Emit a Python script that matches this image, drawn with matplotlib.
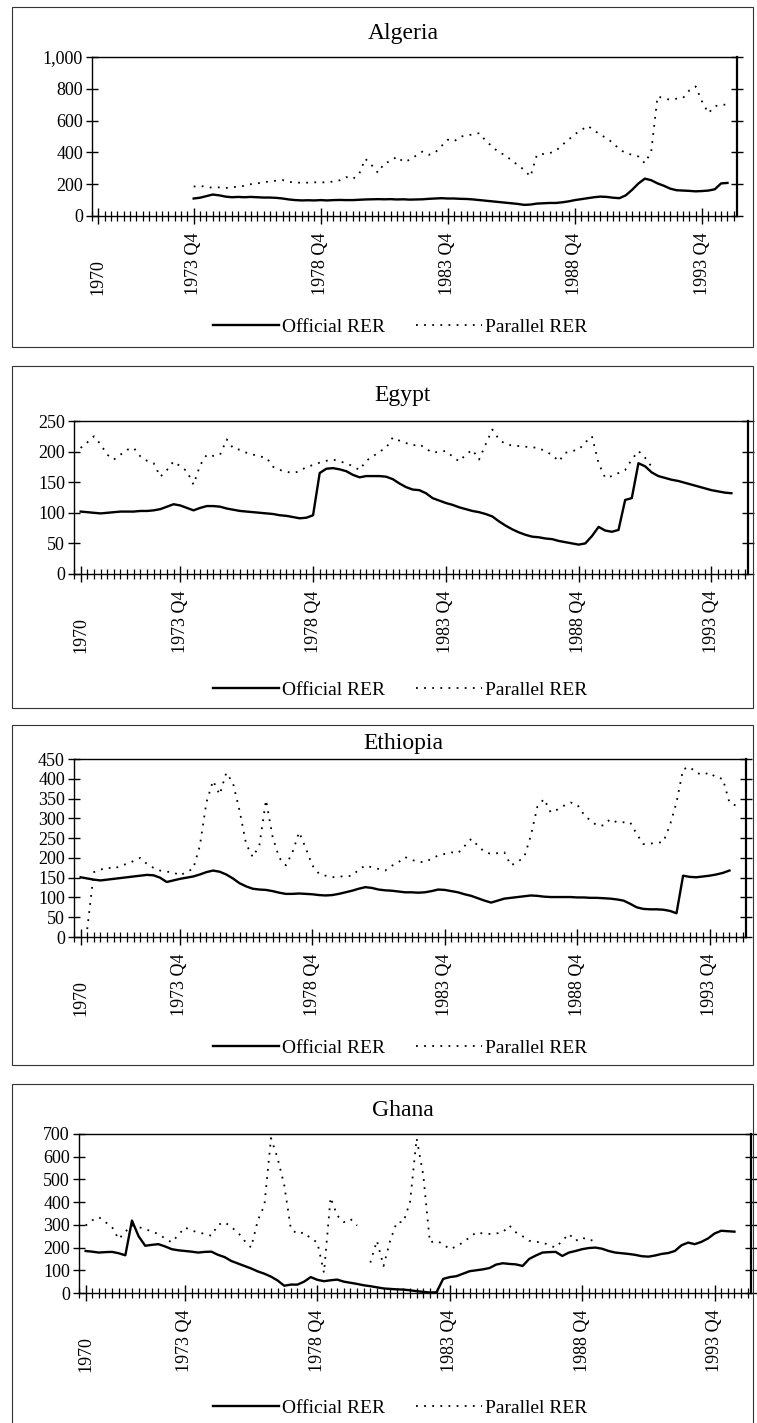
import numpy as np
import matplotlib
matplotlib.use("Agg")
import matplotlib.pyplot as plt
from matplotlib.patches import Rectangle
from matplotlib.ticker import MultipleLocator, FuncFormatter

plt.rcParams["font.family"] = ["Liberation Serif", "DejaVu Serif"]

nan = np.nan

# quarterly index, 0 = 1970 Q1 ... 99 = 1994 Q4
quarters = np.arange(100)
label_pos = [0, 15, 35, 55, 75, 95]
label_txt = ["1970", "1973 Q4", "1978 Q4", "1983 Q4", "1988 Q4", "1993 Q4"]

algeria_official = [
    nan, nan, nan, nan, nan, nan, nan, nan, nan, nan,
    nan, nan, nan, nan, nan, 110, 115, 125, 135, 130,
    122, 118, 120, 118, 120, 118, 116, 116, 114, 110,
    104, 100, 98, 99, 98, 100, 98, 100, 101, 100,
    100, 102, 104, 105, 106, 105, 106, 104, 105, 103,
    104, 105, 108, 110, 112, 110, 110, 108, 107, 104,
    100, 96, 92, 88, 84, 80, 76, 70, 72, 78,
    80, 82, 82, 86, 92, 100, 106, 112, 118, 122,
    120, 115, 112, 130, 165, 205, 235, 225, 205, 190,
    172, 162, 160, 158, 155, 157, 160, 168, 205, 208,
]
algeria_parallel = [
    nan, nan, nan, nan, nan, nan, nan, nan, nan, nan,
    nan, nan, nan, nan, nan, 185, 190, 182, 178, 180,
    176, 180, 185, 190, 200, 205, 212, 218, 222, 226,
    214, 212, 208, 210, 212, 210, 214, 216, 225, 245,
    232, 260, 360, 320, 272, 332, 345, 374, 340, 353,
    380, 405, 385, 399, 440, 480, 470, 500, 505, 515,
    521, 470, 437, 400, 384, 350, 321, 290, 248, 384,
    390, 395, 410, 447, 480, 515, 540, 567, 540, 510,
    490, 458, 420, 395, 385, 374, 332, 405, 752, 740,
    731, 738, 742, 790, 815, 720, 647, 690, 700, 700,
]

egypt_official = [
    102, 101, 100, 99, 100, 101, 102, 102, 102, 103,
    103, 104, 106, 110, 114, 112, 108, 104, 108, 111,
    111, 110, 107, 105, 103, 102, 101, 100, 99, 98,
    96, 95, 93, 91, 92, 96, 165, 172, 173, 171,
    168, 162, 158, 160, 160, 160, 159, 155, 148, 142,
    138, 137, 132, 124, 120, 116, 113, 109, 106, 103,
    101, 98, 94, 86, 79, 73, 68, 64, 61, 60,
    58, 57, 54, 52, 50, 48, 50, 62, 77, 71,
    69, 72, 121, 124, 181, 176, 166, 160, 157, 154,
    152, 149, 146, 143, 140, 137, 135, 133, 132, nan,
]
egypt_parallel = [
    206, 215, 225, 212, 195, 187, 195, 203, 206, 192,
    185, 181, 159, 170, 184, 176, 168, 146, 178, 195,
    193, 195, 220, 205, 203, 198, 195, 192, 190, 175,
    170, 167, 165, 168, 175, 178, 182, 185, 187, 184,
    181, 176, 170, 185, 192, 200, 206, 223, 218, 214,
    210, 212, 205, 198, 200, 201, 192, 184, 195, 203,
    187, 212, 236, 220, 212, 210, 209, 208, 207, 206,
    200, 195, 184, 198, 201, 203, 215, 225, 181, 157,
    160, 165, 170, 187, 201, 190, 175, nan, nan, nan,
    nan, nan, nan, nan, nan, nan, nan, nan, nan, nan,
]

ethiopia_official = [
    151, 148, 145, 143, 145, 147, 149, 151, 153, 155,
    157, 156, 150, 139, 143, 147, 150, 153, 158, 164,
    168, 165, 158, 148, 136, 128, 122, 120, 119, 116,
    112, 109, 109, 110, 109, 108, 106, 105, 106, 109,
    113, 117, 122, 126, 124, 120, 118, 117, 115, 113,
    113, 112, 113, 116, 120, 119, 116, 113, 108, 104,
    98, 92, 87, 92, 97, 99, 101, 103, 105, 104,
    102, 101, 101, 101, 101, 100, 100, 99, 99, 98,
    97, 95, 92, 84, 75, 71, 70, 70, 69, 66,
    60, 155, 152, 151, 153, 155, 158, 162, 168, nan,
]
ethiopia_parallel = [
    nan, 20, 164, 170, 176, 172, 180, 185, 192, 200,
    185, 175, 168, 165, 164, 155, 165, 172, 230, 340,
    395, 360, 415, 390, 320, 235, 202, 232, 346, 253,
    200, 181, 214, 265, 225, 181, 160, 155, 151, 153,
    153, 155, 170, 181, 176, 172, 168, 180, 189, 202,
    195, 190, 189, 198, 206, 210, 214, 212, 230, 248,
    231, 215, 210, 212, 214, 181, 190, 202, 256, 330,
    349, 315, 322, 332, 340, 335, 310, 294, 282, 282,
    298, 290, 290, 290, 260, 235, 236, 238, 240, 282,
    340, 424, 430, 415, 410, 416, 403, 400, 340, 332,
]

ghana_official = [
    185, 182, 178, 180, 181, 175, 166, 319, 250, 208,
    212, 215, 205, 193, 188, 185, 182, 178, 181, 182,
    168, 158, 141, 130, 119, 108, 95, 85, 72, 55,
    32, 37, 37, 50, 70, 58, 52, 56, 59, 50,
    45, 40, 34, 30, 25, 20, 18, 16, 15, 12,
    8, 5, 2, 3, 62, 70, 74, 85, 96, 100,
    104, 110, 125, 131, 128, 126, 119, 150, 165, 178,
    180, 181, 163, 178, 185, 193, 198, 200, 195, 185,
    178, 175, 172, 168, 162, 160, 165, 172, 176, 185,
    210, 222, 215, 225, 240, 262, 274, 272, 270, nan,
]
ghana_parallel = [
    297, 320, 334, 312, 290, 237, 270, 297, 290, 282,
    270, 260, 240, 223, 255, 289, 275, 267, 260, 252,
    300, 312, 290, 267, 230, 200, 319, 386, 682, 593,
    475, 282, 260, 267, 240, 223, 89, 420, 341, 312,
    326, 297, nan, 134, 230, 119, 230, 312, 312, 401,
    680, 519, 223, 230, 215, 193, 205, 223, 245, 267,
    262, 260, 262, 267, 297, 267, 250, 230, 225, 223,
    210, 200, 230, 260, 230, 245, 230, 235, nan, nan,
    nan, nan, nan, nan, nan, nan, nan, nan, nan, nan,
    nan, nan, nan, nan, nan, nan, nan, nan, nan, nan,
]

W, H = 757, 1423

# name, official, parallel, y max, y step,
# axes (left, top, right, bottom), box (left, top, right, bottom), title y, legend y  (pixels)
panels = [
    ("Algeria", algeria_official, algeria_parallel, 1000, 200,
     (92, 57, 737, 216), (12, 7, 753, 347), 34, 327),
    ("Egypt", egypt_official, egypt_parallel, 250, 50,
     (74, 421, 748, 574), (12, 366, 753, 708), 395, 690),
    ("Ethiopia", ethiopia_official, ethiopia_parallel, 450, 50,
     (74, 759, 746, 937), (12, 725, 753, 1065), 743, 1048),
    ("Ghana", ghana_official, ghana_parallel, 700, 100,
     (79, 1134, 751, 1293), (12, 1084, 753, 1430), 1110, 1408),
]

fig = plt.figure(figsize=(W / 100, H / 100), dpi=100)

for name, official, parallel, ymax, ystep, axp, boxp, title_y, leg_y in panels:
    l, t, r, b = axp
    ax = fig.add_axes([l / W, 1 - b / H, (r - l) / W, (b - t) / H])

    # panel frame
    bl, bt, br, bb = boxp
    fig.patches.append(Rectangle((bl / W, 1 - bb / H), (br - bl) / W, (bb - bt) / H,
                                 transform=fig.transFigure, fill=False,
                                 edgecolor="#333333", linewidth=0.8))

    h1, = ax.plot(quarters, official, color="black", linewidth=1.7,
                  solid_joinstyle="round")
    h2, = ax.plot(quarters, parallel, color="black", linewidth=1.3,
                  linestyle=(0, (1, 3.5)))

    ax.set_xlim(-1, 100.5)
    ax.set_ylim(0, ymax)
    ax.yaxis.set_major_locator(MultipleLocator(ystep))
    ax.yaxis.set_major_formatter(FuncFormatter(lambda v, p: f"{v:,.0f}"))
    ax.tick_params(axis="y", which="major", direction="inout", length=9, width=1,
                   left=True, right=True, labelsize=13, pad=2)

    ax.set_xticks(label_pos)
    ax.set_xticklabels([])
    ax.xaxis.set_minor_locator(MultipleLocator(1))
    ax.tick_params(axis="x", which="major", direction="inout", length=12, width=1)
    ax.tick_params(axis="x", which="minor", direction="inout", length=7, width=0.9)

    for p, txt in zip(label_pos, label_txt):
        ax.annotate(txt, xy=(p, 0), xycoords=("data", "axes fraction"),
                    xytext=(0, -79), textcoords="offset pixels",
                    rotation=90, ha="center", va="bottom", fontsize=13)

    for side in ["left", "top", "bottom"]:
        ax.spines[side].set_linewidth(1.0)
    ax.spines["right"].set_linewidth(1.6)

    fig.text(403 / W, 1 - title_y / H, name, ha="center", va="center", fontsize=17)

    ax.legend([h1, h2], ["Official RER", "Parallel RER"], loc="center",
              bbox_to_anchor=(400 / W, 1 - leg_y / H), bbox_transform=fig.transFigure,
              ncol=2, frameon=False, fontsize=14, handlelength=3.4,
              handletextpad=0.15, columnspacing=1.6)

fig.savefig("out.png", dpi=100)
